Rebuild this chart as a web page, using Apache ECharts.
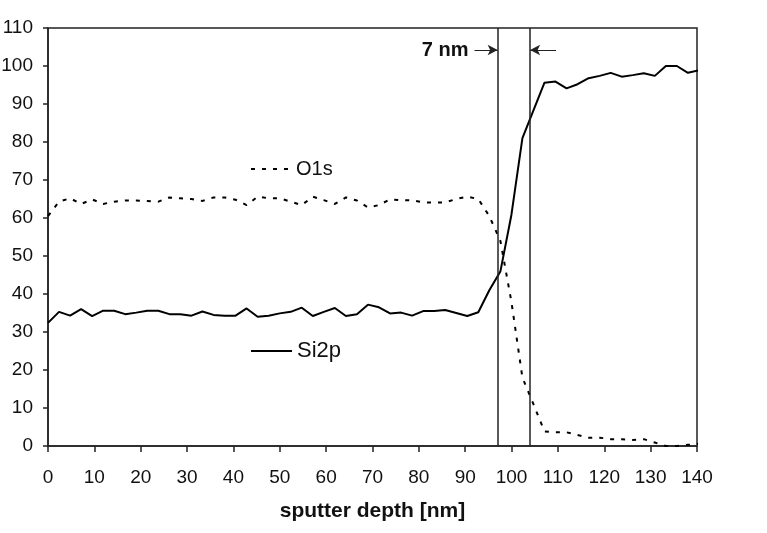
<!DOCTYPE html>
<html>
<head>
<meta charset="utf-8">
<script src="https://cdn.jsdelivr.net/npm/echarts@6/dist/echarts.min.js"></script>
<style>
html,body{margin:0;padding:0;background:#fff;}
#c{width:767px;height:533px;}
</style>
</head>
<body>
<div id="c"></div>
<script>
const depth = [0,2.38,4.76,7.14,9.52,11.9,14.28,16.66,19.04,21.42,23.8,26.18,28.56,30.94,33.32,35.7,38.08,40.46,42.84,45.22,47.6,49.98,52.36,54.74,57.12,59.5,61.88,64.26,66.64,69.02,71.4,73.78,76.16,78.54,80.92,83.3,85.68,88.06,90.44,92.82,95.2,97.58,99.96,102.34,104.72,107.1,109.48,111.86,114.24,116.62,119,121.38,123.76,126.14,128.52,130.9,133.28,135.66,138.04,140.42];
const o1s = [60.5,64.3,65.2,63.7,64.9,63.7,64.3,64.6,64.6,64.5,64.3,65.4,65.2,65.0,64.5,65.4,65.4,64.8,63.4,65.6,65.2,65.2,64.3,63.4,65.6,64.7,63.7,65.4,64.6,62.8,63.4,64.9,64.7,64.7,64.1,64.1,64.1,65.0,65.6,65.0,60.5,54.0,38.0,18.0,11.0,3.8,3.6,3.6,2.9,2.2,2.2,1.8,1.8,1.6,1.8,0.9,0.0,0.0,0.3,0.6];
const si2p = [32.4,35.3,34.3,36.0,34.2,35.6,35.6,34.7,35.1,35.6,35.6,34.7,34.7,34.3,35.4,34.5,34.3,34.3,36.2,34.0,34.3,34.9,35.3,36.4,34.2,35.3,36.3,34.2,34.7,37.2,36.5,34.9,35.1,34.3,35.5,35.5,35.8,35.0,34.2,35.2,41.0,45.9,60.8,81.0,88.3,95.6,95.9,94.1,95.2,96.8,97.4,98.2,97.2,97.6,98.1,97.4,100.0,100.0,98.2,98.9];
const interfaceLines = [97, 104];
const widthLabel = '7 nm';
const xTitle = 'sputter depth [nm]';

const FONT = '"Liberation Sans", Arial, sans-serif';
const INK = '#111';

function pairs(xs, ys){ return xs.map((x,i)=>[x, ys[i]]); }

const chart = echarts.init(document.getElementById('c'), null, {renderer:'canvas'});
chart.setOption({
  animation: false,
  backgroundColor: '#fff',
  textStyle: {fontFamily: FONT},
  grid: {left: 48, right: 70, top: 28, bottom: 87, containLabel: false, outerBoundsMode: 'none',
         show: true, borderColor: '#222', borderWidth: 1.5, backgroundColor: 'transparent'},
  legend: [
    {data: ['O1s'], left: 245, top: 154, itemWidth: 40, itemHeight: 14, itemGap: 7,
     itemStyle: {opacity: 0},
     textStyle: {fontFamily: FONT, fontSize: 20, color: INK}},
    {data: ['Si2p'], left: 245, top: 335, itemWidth: 41, itemHeight: 14, itemGap: 3,
     itemStyle: {opacity: 0},
     textStyle: {fontFamily: FONT, fontSize: 22, color: INK}}
  ],
  xAxis: {
    type: 'value', min: 0, max: 140, interval: 10,
    name: xTitle, nameLocation: 'middle', nameGap: 55,
    nameTextStyle: {fontFamily: FONT, fontSize: 21, fontWeight: 'bold', color: INK},
    axisLine: {show: true, onZero: false, lineStyle: {color: '#222', width: 1.5}},
    axisTick: {show: true, length: 6, lineStyle: {color: '#222', width: 1.5}},
    axisLabel: {fontFamily: FONT, fontSize: 19, color: INK, margin: 22},
    splitLine: {show: false}
  },
  yAxis: {
    type: 'value', min: 0, max: 110, interval: 10,
    axisLine: {show: true, onZero: false, lineStyle: {color: '#222', width: 1.5}},
    axisTick: {show: true, length: 5, lineStyle: {color: '#222', width: 1.5}},
    axisLabel: {fontFamily: FONT, fontSize: 19, color: INK, margin: 15},
    splitLine: {show: false}
  },
  series: [
    {
      name: 'O1s', type: 'line', data: pairs(depth, o1s), showSymbol: false, symbol: 'none',
      clip: false,
      lineStyle: {color: '#000', width: 2, type: [4, 7]},
      itemStyle: {color: '#000'}
    },
    {
      name: 'Si2p', type: 'line', data: pairs(depth, si2p), showSymbol: false, symbol: 'none',
      clip: false,
      lineStyle: {color: '#000', width: 2},
      itemStyle: {color: '#000'},
      markLine: {
        silent: true, symbol: ['none','none'],
        label: {show: false},
        lineStyle: {color: '#222', width: 1.5, type: 'solid'},
        data: interfaceLines.map(v => ({xAxis: v}))
      }
    },
    {
      name: 'annot', type: 'line', data: [],
      markLine: {
        silent: true, symbol: ['none','arrow'], symbolSize: [8, 10],
        lineStyle: {color: '#222', width: 1, type: 'solid'},
        data: [
          [{coord: [92.0, 104.2], label: {show: true, position: 'start', formatter: widthLabel, distance: 6,
             fontFamily: FONT, fontSize: 20, fontWeight: 'bold', color: INK}},
           {coord: [interfaceLines[0], 104.2]}],
          [{coord: [109.6, 104.2], label: {show: false}}, {coord: [interfaceLines[1], 104.2]}]
        ]
      }
    }
  ]
});
</script>
</body>
</html>
